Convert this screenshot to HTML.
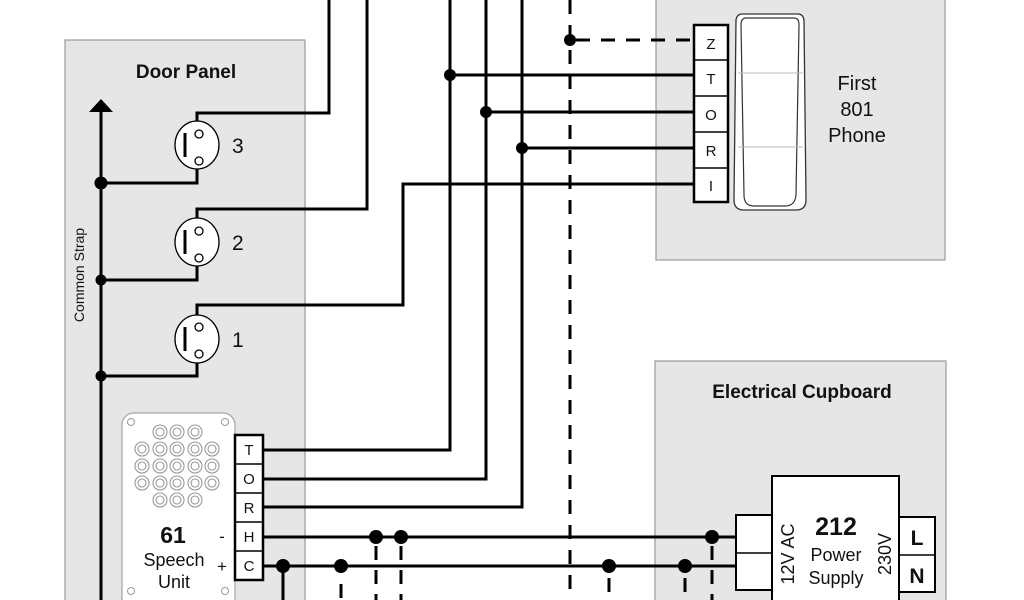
<!DOCTYPE html>
<html><head><meta charset="utf-8"><style>
html,body{margin:0;padding:0;background:#fff}
svg{display:block}
text{font-family:"Liberation Sans",Arial,sans-serif;fill:#111}
</style></head><body>
<svg width="1024" height="600" viewBox="0 0 1024 600" xmlns="http://www.w3.org/2000/svg">
<rect x="65" y="40" width="240" height="570" fill="#e6e6e6" stroke="#999" stroke-width="1.2"/>
<rect x="656" y="-5" width="289" height="265" fill="#e6e6e6" stroke="#999" stroke-width="1.2"/>
<rect x="655" y="361" width="291" height="250" fill="#e6e6e6" stroke="#999" stroke-width="1.2"/>
<text x="186" y="78" font-size="19" font-weight="bold" text-anchor="middle">Door Panel</text>
<text x="802" y="398" font-size="19" font-weight="bold" text-anchor="middle">Electrical Cupboard</text>
<text font-size="20" text-anchor="middle"><tspan x="857" y="90">First</tspan><tspan x="857" y="116">801</tspan><tspan x="857" y="142">Phone</tspan></text>

<g stroke="#000" stroke-width="3" fill="none">
<line x1="101" y1="110" x2="101" y2="600"/>
<polyline points="101,183 197,183 197,113 329,113 329,0"/>
<polyline points="101,280 197,280 197,209 367,209 367,0"/>
<polyline points="101,376 197,376 197,305 403,305 403,184 694,184"/>
<polyline points="263,450 450,450 450,0"/>
<polyline points="263,479 486,479 486,0"/>
<polyline points="263,507 522,507 522,0"/>
<line x1="450" y1="75" x2="694" y2="75"/>
<line x1="486" y1="112" x2="694" y2="112"/>
<line x1="522" y1="148" x2="694" y2="148"/>
<line x1="262" y1="537" x2="736" y2="537"/>
<line x1="262" y1="566" x2="736" y2="566"/>
<line x1="283" y1="566" x2="283" y2="600"/>
</g>
<g stroke="#000" stroke-width="3" fill="none" stroke-dasharray="14,11">
<line x1="570" y1="0" x2="570" y2="600"/>
<line x1="576" y1="40" x2="694" y2="40"/>
</g>
<g stroke="#000" stroke-width="3" fill="none" stroke-dasharray="14,10">
<line x1="376" y1="546" x2="376" y2="600"/>
<line x1="401" y1="546" x2="401" y2="600"/>
<line x1="341" y1="584" x2="341" y2="600"/>
<line x1="609" y1="578" x2="609" y2="600"/>
<line x1="685" y1="578" x2="685" y2="600"/>
<line x1="712" y1="546" x2="712" y2="600"/>
</g>
<polygon points="101,99 89,112 113,112" fill="#000"/>
<text transform="translate(84,275) rotate(-90)" font-size="14" text-anchor="middle">Common Strap</text>

<g fill="#000">
<circle cx="101" cy="183" r="6.5"/><circle cx="101" cy="280" r="5.5"/><circle cx="101" cy="376" r="5.5"/>
<circle cx="450" cy="75" r="6"/><circle cx="486" cy="112" r="6"/><circle cx="522" cy="148" r="6"/>
<circle cx="570" cy="40" r="6"/>
<circle cx="376" cy="537" r="7"/><circle cx="401" cy="537" r="7"/><circle cx="712" cy="537" r="7"/>
<circle cx="283" cy="566" r="7"/><circle cx="341" cy="566" r="7"/><circle cx="609" cy="566" r="7"/><circle cx="685" cy="566" r="7"/>
</g>

<g stroke="#000" stroke-width="1.3" fill="#fff">
<ellipse cx="197" cy="145" rx="22" ry="24"/>
<ellipse cx="197" cy="242" rx="22" ry="24"/>
<ellipse cx="197" cy="339" rx="22" ry="24"/>
<circle cx="199" cy="134" r="4"/><circle cx="199" cy="161" r="4"/>
<circle cx="199" cy="231" r="4"/><circle cx="199" cy="258" r="4"/>
<circle cx="199" cy="327" r="4"/><circle cx="199" cy="354" r="4"/>
</g>
<g stroke="#000" stroke-width="3">
<line x1="185" y1="133" x2="185" y2="157"/>
<line x1="185" y1="230" x2="185" y2="254"/>
<line x1="185" y1="327" x2="185" y2="351"/>
</g>
<g font-size="21"><text x="232" y="153">3</text><text x="232" y="250">2</text><text x="232" y="347">1</text></g>

<rect x="694" y="25" width="34" height="177" fill="#fff" stroke="#000" stroke-width="2.5"/>
<g stroke="#000" stroke-width="1.5"><line x1="694" y1="60" x2="728" y2="60"/><line x1="694" y1="96" x2="728" y2="96"/><line x1="694" y1="132" x2="728" y2="132"/><line x1="694" y1="168" x2="728" y2="168"/></g>
<g font-size="15" text-anchor="middle"><text x="711" y="49">Z</text><text x="711" y="84">T</text><text x="711" y="120">O</text><text x="711" y="156">R</text><text x="711" y="191">I</text></g>
<path d="M742,14 L798,14 Q803,14 804,20 L806,200 Q806,210 796,210 L744,210 Q734,210 734,200 L736,20 Q737,14 742,14 Z" fill="#fff" stroke="#333" stroke-width="1.3"/>
<path d="M746,18 L794,18 Q799,18 799,25 L796,195 Q795,206 785,206 L754,206 Q744,206 744,195 L741,25 Q741,18 746,18 Z" fill="#fff" stroke="#333" stroke-width="1.2"/>
<line x1="738" y1="73" x2="803" y2="73" stroke="#bbb" stroke-width="1"/>
<line x1="738" y1="147" x2="803" y2="147" stroke="#bbb" stroke-width="1"/>

<rect x="122" y="413" width="113" height="200" rx="12" fill="#fff" stroke="#aaa" stroke-width="1.3"/>
<g stroke="#999" fill="none" stroke-width="1">
<circle cx="131" cy="422" r="3.5"/><circle cx="225" cy="422" r="3.5"/><circle cx="131" cy="591" r="3.5"/><circle cx="225" cy="591" r="3.5"/>
</g>
<g stroke="#999" fill="none" stroke-width="1.1">
<g transform="translate(160,432)"><circle r="7"/><circle r="4"/></g>
<g transform="translate(177,432)"><circle r="7"/><circle r="4"/></g>
<g transform="translate(195,432)"><circle r="7"/><circle r="4"/></g>
<g transform="translate(142,449)"><circle r="7"/><circle r="4"/></g>
<g transform="translate(160,449)"><circle r="7"/><circle r="4"/></g>
<g transform="translate(177,449)"><circle r="7"/><circle r="4"/></g>
<g transform="translate(195,449)"><circle r="7"/><circle r="4"/></g>
<g transform="translate(212,449)"><circle r="7"/><circle r="4"/></g>
<g transform="translate(142,466)"><circle r="7"/><circle r="4"/></g>
<g transform="translate(160,466)"><circle r="7"/><circle r="4"/></g>
<g transform="translate(177,466)"><circle r="7"/><circle r="4"/></g>
<g transform="translate(195,466)"><circle r="7"/><circle r="4"/></g>
<g transform="translate(212,466)"><circle r="7"/><circle r="4"/></g>
<g transform="translate(142,483)"><circle r="7"/><circle r="4"/></g>
<g transform="translate(160,483)"><circle r="7"/><circle r="4"/></g>
<g transform="translate(177,483)"><circle r="7"/><circle r="4"/></g>
<g transform="translate(195,483)"><circle r="7"/><circle r="4"/></g>
<g transform="translate(212,483)"><circle r="7"/><circle r="4"/></g>
<g transform="translate(160,500)"><circle r="7"/><circle r="4"/></g>
<g transform="translate(177,500)"><circle r="7"/><circle r="4"/></g>
<g transform="translate(195,500)"><circle r="7"/><circle r="4"/></g>
</g>
<text x="173" y="543" font-size="23" font-weight="bold" text-anchor="middle">61</text>
<text x="174" y="566" font-size="18" text-anchor="middle">Speech</text>
<text x="174" y="588" font-size="18" text-anchor="middle">Unit</text>
<text x="222" y="542" font-size="17" text-anchor="middle">-</text>
<text x="222" y="572" font-size="17" text-anchor="middle">+</text>
<rect x="235" y="435" width="28" height="145" fill="#fff" stroke="#000" stroke-width="2.5"/>
<g stroke="#000" stroke-width="1.5"><line x1="235" y1="464" x2="263" y2="464"/><line x1="235" y1="493" x2="263" y2="493"/><line x1="235" y1="522" x2="263" y2="522"/><line x1="235" y1="551" x2="263" y2="551"/></g>
<g font-size="15" text-anchor="middle"><text x="249" y="455">T</text><text x="249" y="484">O</text><text x="249" y="513">R</text><text x="249" y="542">H</text><text x="249" y="571">C</text></g>

<rect x="772" y="476" width="127" height="140" fill="#fff" stroke="#000" stroke-width="2"/>
<rect x="736" y="515" width="36" height="75" fill="#fff" stroke="#000" stroke-width="2"/>
<line x1="736" y1="553" x2="772" y2="553" stroke="#000" stroke-width="1.5"/>
<rect x="899" y="517" width="36" height="75" fill="#fff" stroke="#000" stroke-width="2"/>
<line x1="899" y1="555" x2="935" y2="555" stroke="#000" stroke-width="1.5"/>
<text x="917" y="545" font-size="21" font-weight="bold" text-anchor="middle">L</text>
<text x="917" y="583" font-size="21" font-weight="bold" text-anchor="middle">N</text>
<text x="836" y="535" font-size="25" font-weight="bold" text-anchor="middle">212</text>
<text x="836" y="561" font-size="18" text-anchor="middle">Power</text>
<text x="836" y="584" font-size="18" text-anchor="middle">Supply</text>
<text transform="translate(794,554) rotate(-90)" font-size="18" text-anchor="middle">12V AC</text>
<text transform="translate(891,554) rotate(-90)" font-size="18" text-anchor="middle">230V</text>
</svg>
</body></html>
